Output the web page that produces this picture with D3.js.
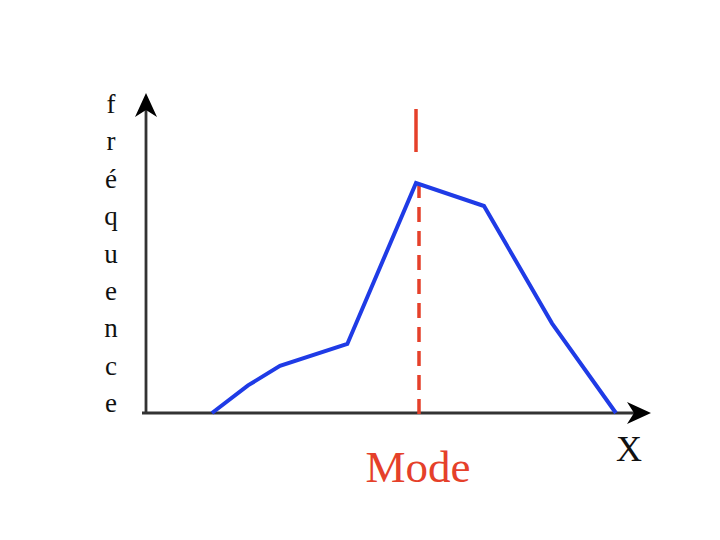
<!DOCTYPE html>
<html>
<head>
<meta charset="utf-8">
<script src="https://cdn.jsdelivr.net/npm/d3@7"></script>
<style>
  html, body { margin: 0; padding: 0; background: #fff; }
  svg { display: block; }
</style>
</head>
<body>
<svg id="chart" width="720" height="540"></svg>
<script>
  // Data (x in class units, y in frequency units)
  const xValues = [1, 1.53, 2, 2.99, 4, 5, 6, 6.94];
  const freqValues = [0, 1.2, 2.05, 3.0, 10, 9, 3.9, 0];
  const modeValue = 4;
  const yLabelLetters = ['f', 'r', 'é', 'q', 'u', 'e', 'n', 'c', 'e'];
  const xLabel = 'X';
  const modeLabel = 'Mode';

  const svg = d3.select('#chart');
  const W = 720, H = 540;
  svg.append('rect').attr('width', W).attr('height', H).attr('fill', '#fff');

  // origin around (144, 413)
  const x = d3.scaleLinear().domain([0, 7.5]).range([144, 654]);
  const y = d3.scaleLinear().domain([0, 14]).range([413, 91]);

  const axisColor = '#333';
  const red = '#e5402a';
  const blue = '#1f3be6';

  // Axes
  svg.append('line')
    .attr('x1', x(0) - 2).attr('x2', x(7.5) - 12)
    .attr('y1', y(0)).attr('y2', y(0))
    .attr('stroke', axisColor).attr('stroke-width', 2.8);
  svg.append('line')
    .attr('x1', x(0) + 2).attr('x2', x(0) + 2)
    .attr('y1', y(0) + 1).attr('y2', y(14) + 10)
    .attr('stroke', axisColor).attr('stroke-width', 2.8);

  // Arrow heads (stealth style)
  function arrow(tx, ty, angle) {
    const p = d3.path();
    p.moveTo(0, 0);
    p.lineTo(-24, -11);
    p.lineTo(-17, 0);
    p.lineTo(-24, 11);
    p.closePath();
    svg.append('path')
      .attr('d', p.toString())
      .attr('fill', '#000')
      .attr('transform', `translate(${tx},${ty}) rotate(${angle})`);
  }
  arrow(x(7.5) - 3, y(0), 0);
  arrow(x(0) + 2, y(14) + 2, -90);

  // Y label, written letter by letter
  const letterY = d3.scalePoint().domain(d3.range(yLabelLetters.length)).range([113, 412]);
  svg.append('g').selectAll('text')
    .data(yLabelLetters)
    .enter()
    .append('text')
    .attr('x', 111)
    .attr('y', (d, i) => letterY(i))
    .attr('text-anchor', 'middle')
    .attr('font-family', '"Liberation Serif", "DejaVu Serif", serif')
    .attr('font-size', 27)
    .attr('fill', '#111')
    .text(d => d);

  // X label
  svg.append('text')
    .attr('x', 629).attr('y', 461)
    .attr('text-anchor', 'middle')
    .attr('font-family', '"Liberation Serif", serif')
    .attr('font-size', 36)
    .attr('fill', '#111')
    .text(xLabel);

  // Mode marker
  const peak = freqValues[xValues.indexOf(modeValue)];
  svg.append('line')
    .attr('x1', x(modeValue)).attr('x2', x(modeValue))
    .attr('y1', y(peak) - 74).attr('y2', y(peak) - 31)
    .attr('stroke', red).attr('stroke-width', 3.5);
  svg.append('line')
    .attr('x1', x(modeValue) + 3).attr('x2', x(modeValue) + 3)
    .attr('y1', y(peak)).attr('y2', y(0) + 9)
    .attr('stroke', red).attr('stroke-width', 3.5)
    .attr('stroke-dasharray', '15,9');

  svg.append('text')
    .attr('x', x(modeValue) + 2).attr('y', 482)
    .attr('text-anchor', 'middle')
    .attr('font-family', '"Liberation Serif", serif')
    .attr('font-size', 45)
    .attr('fill', red)
    .text(modeLabel);

  // Frequency polygon
  const points = xValues.map((v, i) => [v, freqValues[i]]);
  const line = d3.line().x(d => x(d[0])).y(d => y(d[1]));
  svg.append('path')
    .datum(points)
    .attr('d', line)
    .attr('fill', 'none')
    .attr('stroke', blue)
    .attr('stroke-width', 4)
    .attr('stroke-linejoin', 'miter');
</script>
</body>
</html>
